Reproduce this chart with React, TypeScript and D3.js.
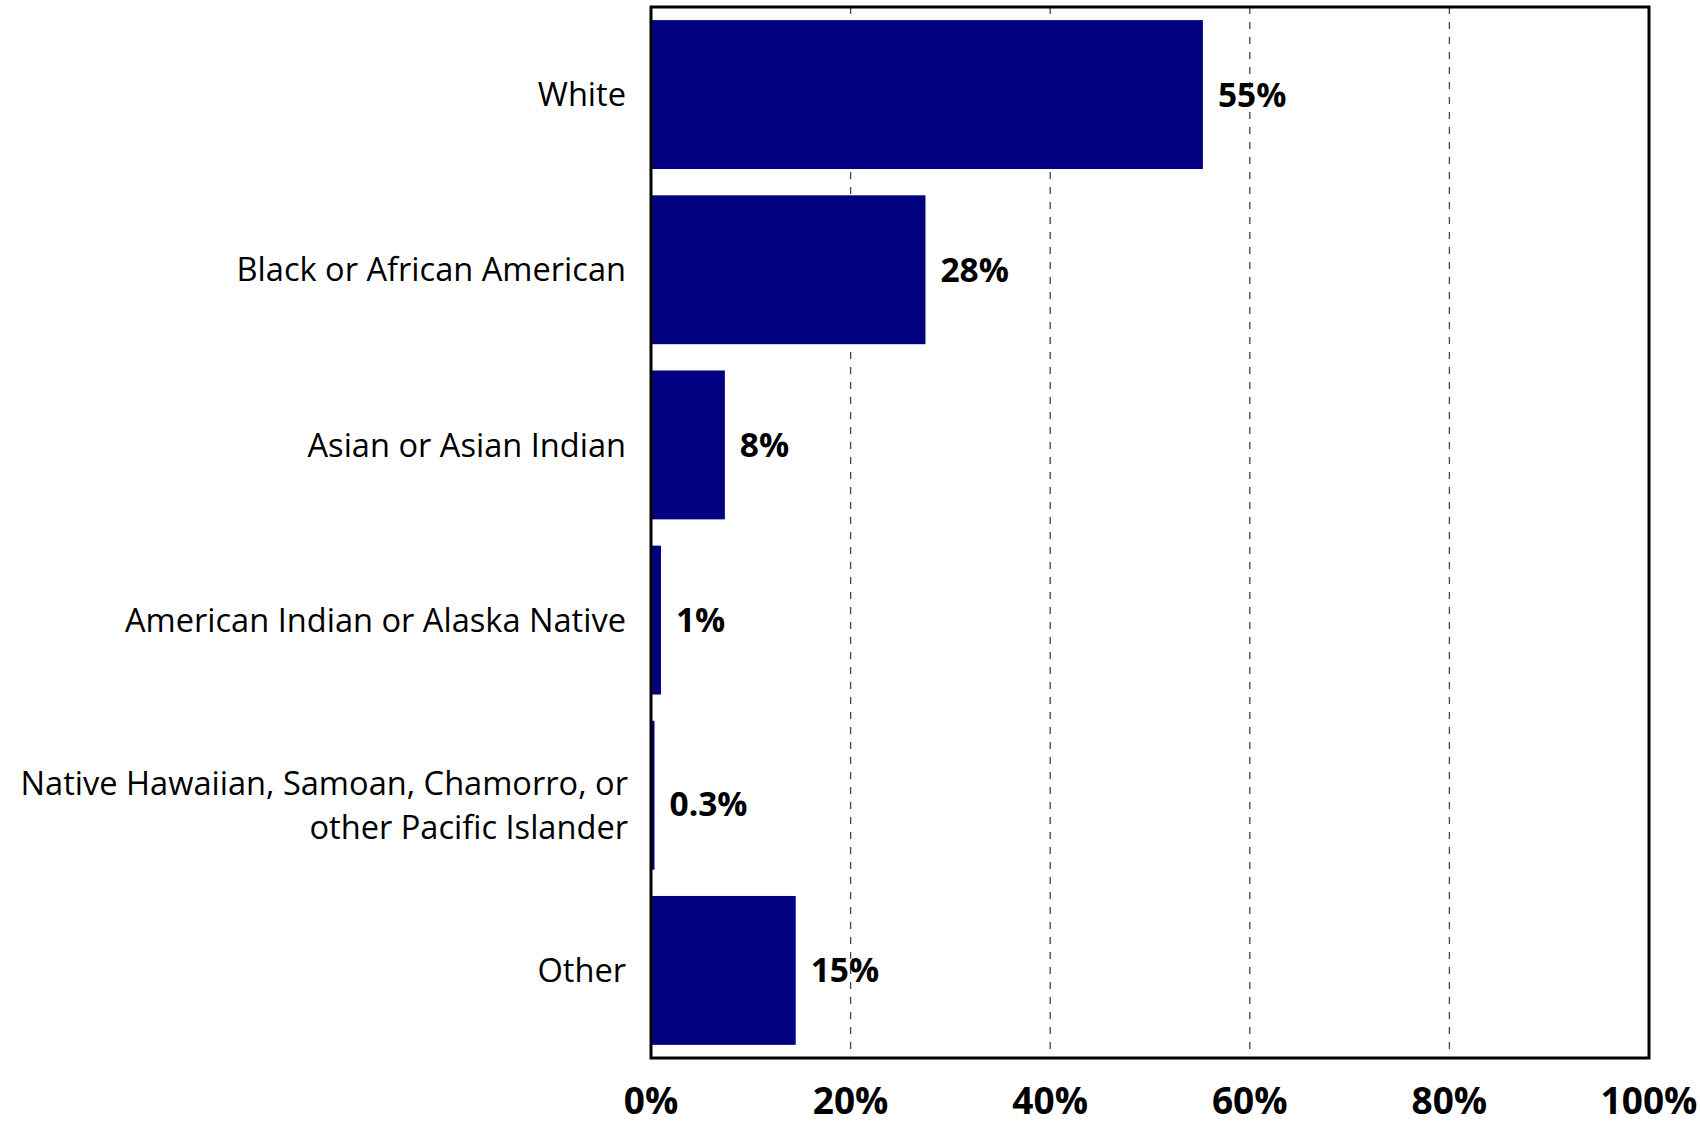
import React from "react";
import * as d3 from "d3";

const categories: string[][] = [
  ["White"],
  ["Black or African American"],
  ["Asian or Asian Indian"],
  ["American Indian or Alaska Native"],
  ["Native Hawaiian, Samoan, Chamorro, or", "other Pacific Islander"],
  ["Other"],
];
const values: number[] = [55.3, 27.5, 7.4, 1.0, 0.35, 14.5];
const valueLabels: string[] = ["55%", "28%", "8%", "1%", "0.3%", "15%"];
const xTicks: number[] = [0, 20, 40, 60, 80, 100];
const xTickLabels: string[] = ["0%", "20%", "40%", "60%", "80%", "100%"];

const W = 1700;
const H = 1127;
const left = 651;
const right = 1649;
const top = 7;
const bottom = 1058;
const FONT = "'Open Sans', 'Noto Sans', sans-serif";

export default function App() {
  const x = d3.scaleLinear().domain([0, 100]).range([left, right]);
  const y = d3
    .scaleBand<number>()
    .domain(d3.range(categories.length))
    .range([top, bottom])
    .paddingInner(0.15)
    .paddingOuter(0.075);
  const bw = y.bandwidth();

  return (
    <svg
      width={W}
      height={H}
      style={{ position: "absolute", left: 0, top: 0, background: "#fff" }}
      fontFamily={FONT}
    >
      <rect x={0} y={0} width={W} height={H} fill="#fff" />
      {xTicks
        .filter((t) => t > 0 && t < 100)
        .map((t) => (
          <line
            key={"g" + t}
            x1={x(t)}
            x2={x(t)}
            y1={top}
            y2={bottom}
            stroke="#444"
            strokeWidth={1.3}
            strokeDasharray="7,8"
          />
        ))}
      {values.map((v, i) => {
        const yy = y(i)!;
        return (
          <rect
            key={"b" + i}
            x={x(0)}
            y={yy}
            width={x(v) - x(0)}
            height={bw}
            fill="#000080"
          />
        );
      })}
      {values.map((v, i) => {
        const cy = y(i)! + bw / 2 + (categories[i].length > 1 ? 9 : 0);
        return (
          <text
            key={"v" + i}
            x={x(v) + 15}
            y={cy}
            dy="0.36em"
            fontSize={33.5}
            fontWeight="bold"
            fill="#000"
          >
            {valueLabels[i]}
          </text>
        );
      })}
      {categories.map((lines, i) => {
        const c = y(i)! + bw / 2 + (lines.length > 1 ? 10 : 0);
        const lh = 44;
        const start = c - ((lines.length - 1) * lh) / 2;
        const tx = left - 25 + (lines.length > 1 ? 2 : 0);
        return (
          <text key={"c" + i} x={tx} textAnchor="end" fontSize={32.6} fill="#000">
            {lines.map((ln, j) => (
              <tspan key={j} x={tx} y={start + j * lh} dy="0.36em">
                {ln}
              </tspan>
            ))}
          </text>
        );
      })}
      <rect
        x={left}
        y={top}
        width={right - left}
        height={bottom - top}
        fill="none"
        stroke="#000"
        strokeWidth={3}
      />
      {xTicks.map((t, i) => (
        <text
          key={"t" + t}
          x={x(t)}
          y={1101}
          dy="0.36em"
          textAnchor="middle"
          fontSize={37}
          fontWeight="bold"
          fill="#000"
        >
          {xTickLabels[i]}
        </text>
      ))}
    </svg>
  );
}
